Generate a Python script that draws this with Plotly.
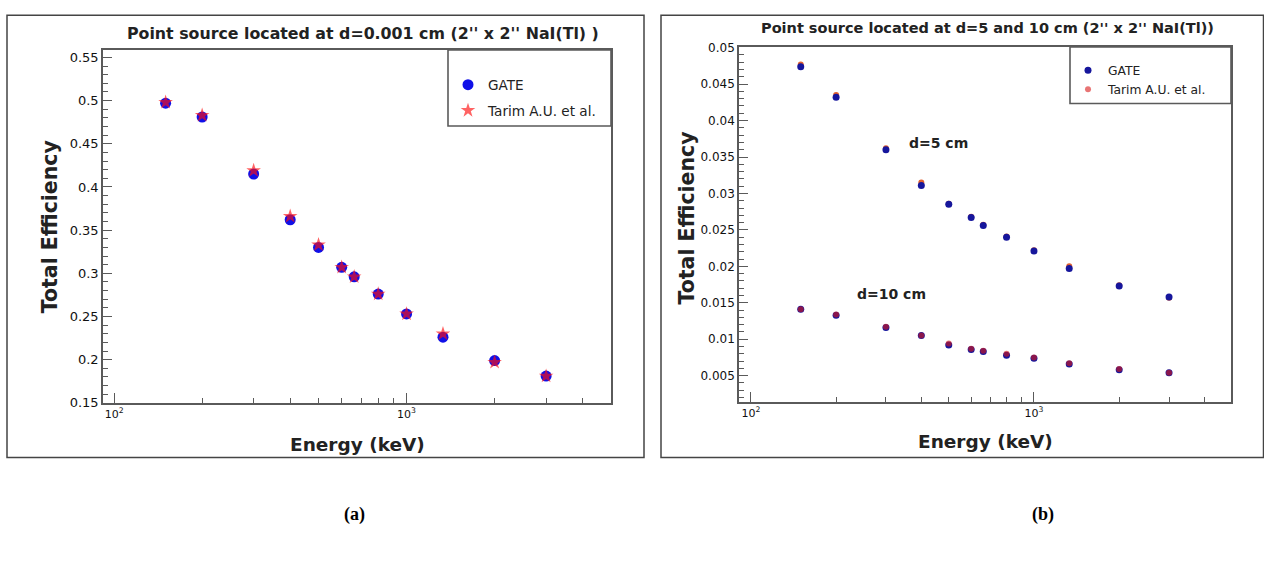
import plotly.graph_objects as go

W, H = 1264, 562

# ---------------- data ----------------
energy_keV = [150, 200, 300, 400, 500, 600, 662, 800, 1000, 1332, 2000, 3000]

# panel (a): d = 0.001 cm
gate_a = [0.497, 0.481, 0.415, 0.362, 0.330, 0.307, 0.296, 0.276, 0.253, 0.226, 0.199, 0.181]
tarim_a = [0.498, 0.483, 0.419, 0.366, 0.333, 0.307, 0.296, 0.276, 0.253, 0.230, 0.197, 0.181]

# panel (b): d = 5 cm and d = 10 cm
gate_b5 = [0.0474, 0.0432, 0.0360, 0.0311, 0.0285, 0.0267, 0.0256, 0.0240, 0.0221, 0.0197, 0.0173, 0.0158]
tarim_b5 = [0.0477, 0.0435, 0.0362, 0.0315, 0.0286, 0.0268, 0.0257, 0.0241, 0.0222, 0.0200, 0.0174, 0.0157]
gate_b10 = [0.0141, 0.0133, 0.0116, 0.0105, 0.0092, 0.0086, 0.0083, 0.0078, 0.0074, 0.0066, 0.0058, 0.0054]
tarim_b10 = [0.0141, 0.0134, 0.0117, 0.0105, 0.0094, 0.0087, 0.0084, 0.0080, 0.0075, 0.0067, 0.0059, 0.0054]

xtick_vals = [100, 1000]
xtick_text = ["10<sup>2</sup>", "10<sup>3</sup>"]
x_minor = [200, 300, 400, 500, 600, 700, 800, 900, 2000, 3000, 4000, 5000]


def px(x):
    return x / W


def py(y):
    return 1 - y / H


BLUE = "#1010e8"
RED = "#ff1010"
FONT = "DejaVu Sans"

fig = go.Figure()

# panel (a)
fig.add_trace(go.Scatter(x=energy_keV, y=gate_a, mode="markers", name="GATE",
                         marker=dict(symbol="circle", size=11, color=BLUE),
                         xaxis="x", yaxis="y", legend="legend", legendgroup="g1"))
fig.add_trace(go.Scatter(x=energy_keV, y=tarim_a, mode="markers", name="Tarim A.U. et al.",
                         marker=dict(symbol="star", size=11, color=RED, opacity=0.65),
                         xaxis="x", yaxis="y", legend="legend", legendgroup="g2"))

# panel (b)
fig.add_trace(go.Scatter(x=energy_keV, y=tarim_b5, mode="markers", name="Tarim A.U. et al.",
                         marker=dict(symbol="circle", size=6, color="#e06030"),
                         xaxis="x2", yaxis="y2", legend="legend2", showlegend=False))
fig.add_trace(go.Scatter(x=energy_keV, y=gate_b5, mode="markers", name="GATE",
                         marker=dict(symbol="circle", size=7, color="#16169c"),
                         xaxis="x2", yaxis="y2", legend="legend2", legendgroup="h1"))
fig.add_trace(go.Scatter(x=energy_keV, y=gate_b10, mode="markers", name="GATE",
                         marker=dict(symbol="circle", size=7, color="#16169c"),
                         xaxis="x2", yaxis="y2", legend="legend2", showlegend=False))
fig.add_trace(go.Scatter(x=energy_keV, y=tarim_b10, mode="markers", name="Tarim A.U. et al.",
                         marker=dict(symbol="circle", size=6, color="#d81818", opacity=0.6),
                         xaxis="x2", yaxis="y2", legend="legend2", legendgroup="h2"))

axis_common = dict(showline=True, mirror=True, linecolor="#5a5a5a", linewidth=1.6,
                   showgrid=False, zeroline=False, ticks="inside", tickcolor="#5a5a5a",
                   tickfont=dict(family=FONT, size=13, color="#111111"))

xaxis_common = dict(axis_common, type="log", tickmode="array", tickvals=xtick_vals,
                    ticktext=xtick_text, ticklen=10,
                    tickfont=dict(family=FONT, size=11, color="#111111"),
                    minor=dict(tickmode="array", tickvals=x_minor, ticks="inside",
                               ticklen=5, tickcolor="#5a5a5a"))

fig.update_layout(
    width=W, height=H, margin=dict(l=0, r=0, t=0, b=0),
    paper_bgcolor="white", plot_bgcolor="white",
    xaxis=dict(xaxis_common, domain=[px(103), px(611)], range=[1.962, 3.699], anchor="y"),
    yaxis=dict(axis_common, domain=[py(407), py(45)], range=[0.15, 0.5587], anchor="x",
               tick0=0.15, dtick=0.05, ticklen=9,
               minor=dict(dtick=0.01, ticks="inside", ticklen=5, tickcolor="#5a5a5a")),
    xaxis2=dict(xaxis_common, domain=[px(739), px(1231)], range=[1.958, 3.696], anchor="y2"),
    yaxis2=dict(axis_common, domain=[py(406), py(42)], range=[0.0014, 0.0501], anchor="x2",
                tick0=0, dtick=0.005, ticklen=9,
                tickfont=dict(family=FONT, size=12, color="#111111"),
                minor=dict(dtick=0.001, ticks="inside", ticklen=5, tickcolor="#5a5a5a")),
    legend=dict(x=px(448), y=py(65), xanchor="left", yanchor="top",
                bgcolor="rgba(0,0,0,0)", borderwidth=0,
                font=dict(family=FONT, size=13.6, color="#222222"), tracegroupgap=5),
    legend2=dict(x=px(1068), y=py(51), xanchor="left", yanchor="top",
                 bgcolor="rgba(0,0,0,0)", borderwidth=0,
                 font=dict(family=FONT, size=12.3, color="#222222"), tracegroupgap=0),
    showlegend=True,
)

shapes = [
    # outer panel frames
    dict(type="rect", xref="paper", yref="paper", x0=px(7), x1=px(644), y0=py(463), y1=py(9.5),
         line=dict(color="#444444", width=1.5)),
    dict(type="rect", xref="paper", yref="paper", x0=px(661), x1=px(1263.5), y0=py(463), y1=py(9.5),
         line=dict(color="#444444", width=1.5)),
    # legend boxes
    dict(type="rect", xref="paper", yref="paper", x0=px(448), x1=px(611), y0=py(123), y1=py(45),
         line=dict(color="#5a5a5a", width=1.6), fillcolor="rgba(0,0,0,0)"),
    dict(type="rect", xref="paper", yref="paper", x0=px(1070), x1=px(1231), y0=py(100), y1=py(42),
         line=dict(color="#5a5a5a", width=1.6), fillcolor="rgba(0,0,0,0)"),
]
fig.update_layout(shapes=shapes)


def ann(text, x, y, size, bold=True, family=FONT, angle=0, color="#222222"):
    fig.add_annotation(text=f"<b>{text}</b>" if bold else text, x=px(x), y=py(y),
                       xref="paper", yref="paper", showarrow=False, textangle=angle,
                       font=dict(family=family, size=size, color=color),
                       xanchor="center", yanchor="middle")


ann("Point source located at d=0.001 cm (2'' x 2'' NaI(Tl) )", 363, 28, 15.8)
ann("Point source located at d=5 and 10 cm (2'' x 2'' NaI(Tl))", 987, 23, 14.5)
ann("Total Efficiency", 50, 227, 20.5, angle=-90)
ann("Total Efficiency", 687, 218, 20.5, angle=-90)
ann("Energy (keV)", 357, 450, 18.5)
ann("Energy (keV)", 985, 447, 18.5)
ann("d=5 cm", 938, 140, 14)
ann("d=10 cm", 891, 295, 14)
ann("(a)", 354, 522, 18, family="Liberation Serif", color="black")
ann("(b)", 1043, 522, 18, family="Liberation Serif", color="black")

fig.write_html("out.html", config={"displayModeBar": False},
               post_script="document.body.style.margin='0';document.body.style.overflow='hidden';")
